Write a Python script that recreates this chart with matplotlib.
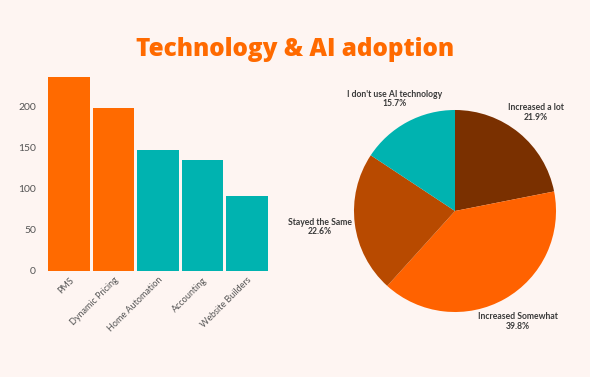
import matplotlib
matplotlib.use("Agg")
import matplotlib.pyplot as plt
import numpy as np

categories = ["PMS", "Dynamic Pricing", "Home Automation", "Accounting", "Website Builders"]
values = [236, 198, 147, 134, 91]
bar_colors = ["#FF6A00", "#FF6A00", "#00B3B0", "#00B3B0", "#00B3B0"]

pie_labels = ["Increased a lot", "Increased Somewhat", "Stayed the Same", "I don't use AI technology"]
pie_values = [21.9, 39.8, 22.6, 15.7]
pie_colors = ["#7A3000", "#FF6200", "#B84A00", "#00B3B0"]

BG = "#FEF5F2"
W, H = 590, 377
fig = plt.figure(figsize=(W / 100, H / 100), dpi=100, facecolor=BG)

def box(x0, y0, x1, y1):
    return [x0 / W, 1 - y1 / H, (x1 - x0) / W, (y1 - y0) / H]

fig.text(295 / W, 1 - 50 / H, "Technology & AI adoption", ha="center", va="center",
         fontsize=17.5, fontweight="heavy", color="#FF6A00", family="Open Sans")

# Bar chart
ax = fig.add_axes(box(47, 65, 269, 270.7))
ax.set_facecolor(BG)
x = np.arange(len(categories))
bars = ax.bar(x, values, width=0.94, color=bar_colors)
ax.set_xlim(-0.5, len(categories) - 0.5)
ax.set_ylim(0, 250)
ax.set_yticks([0, 50, 100, 150, 200])
for s in ax.spines.values():
    s.set_visible(False)
ax.tick_params(axis="both", length=0, colors="#555555", labelsize=7.5)
ax.tick_params(axis="y", pad=8)
ax.set_xticks(x)
ax.set_xticklabels(categories, rotation=45, ha="right", rotation_mode="anchor",
                   family="Lato", fontsize=6.5, color="#555555")
for t in ax.get_yticklabels():
    t.set_family("Lato")

# Pie chart
pax = fig.add_axes(box(455 - 150, 211 - 150, 455 + 150, 211 + 150))
pax.set_facecolor("none")
wedges, texts = pax.pie(pie_values, colors=pie_colors, startangle=90, counterclock=False,
                        labels=[f"{l}\n{v}%" for l, v in zip(pie_labels, pie_values)],
                        labeldistance=1.26, wedgeprops=dict(linewidth=0))
for t in texts:
    t.set_ha("center")
    t.set_va("center")
    t.set_family("Lato")
    t.set_fontweight("bold")
    t.set_fontsize(6.2)
    t.set_color("#3a3a3a")
    t.set_linespacing(1.1)
    t.set_clip_on(False)
# shift "Stayed the Same" label slightly outward to clear the pie
px, py = texts[2].get_position()
texts[2].set_position((px * 1.07, py))
pax.set_xlim(-1.485, 1.485)
pax.set_ylim(-1.485, 1.485)
pax.set_aspect("equal")

fig.savefig("out.png", dpi=100, facecolor=BG)
